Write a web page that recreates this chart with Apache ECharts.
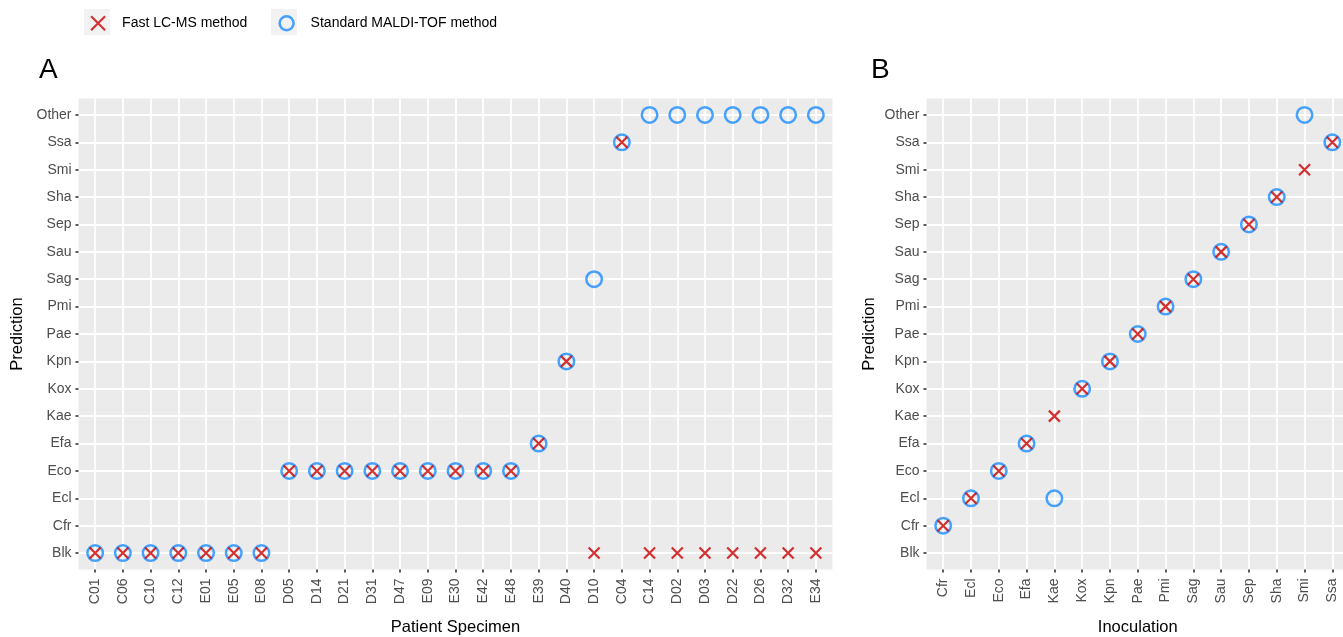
<!DOCTYPE html>
<html>
<head>
<meta charset="utf-8">
<script src="https://cdn.jsdelivr.net/npm/echarts@6/dist/echarts.min.js"></script>
<style>
html,body{margin:0;padding:0;background:#fff;}
#c{width:1343px;height:637px;}
</style>
</head>
<body>
<div id="c"></div>
<script>
// ---- data ----
var predCats = ['Blk','Cfr','Ecl','Eco','Efa','Kae','Kox','Kpn','Pae','Pmi','Sag','Sau','Sep','Sha','Smi','Ssa','Other'];
var specimenCats = ['C01','C06','C10','C12','E01','E05','E08','D05','D14','D21','D31','D47','E09','E30','E42','E48','E39','D40','D10','C04','C14','D02','D03','D22','D26','D32','E34'];
var specimenLCMS = ['Blk','Blk','Blk','Blk','Blk','Blk','Blk','Eco','Eco','Eco','Eco','Eco','Eco','Eco','Eco','Eco','Efa','Kpn','Blk','Ssa','Blk','Blk','Blk','Blk','Blk','Blk','Blk'];
var specimenMALDI = ['Blk','Blk','Blk','Blk','Blk','Blk','Blk','Eco','Eco','Eco','Eco','Eco','Eco','Eco','Eco','Eco','Efa','Kpn','Sag','Ssa','Other','Other','Other','Other','Other','Other','Other'];
var inocCats = ['Cfr','Ecl','Eco','Efa','Kae','Kox','Kpn','Pae','Pmi','Sag','Sau','Sep','Sha','Smi','Ssa'];
var inocLCMS = ['Cfr','Ecl','Eco','Efa','Kae','Kox','Kpn','Pae','Pmi','Sag','Sau','Sep','Sha','Smi','Ssa'];
var inocMALDI = ['Cfr','Ecl','Eco','Efa','Ecl','Kox','Kpn','Pae','Pmi','Sag','Sau','Sep','Sha','Other','Ssa'];
var nameLC = 'Fast LC-MS method';
var nameMA = 'Standard MALDI-TOF method';

function toPts(xcats, ycats) {
  return xcats.map(function (c, i) { return [i, predCats.indexOf(ycats[i])]; });
}
function range(n) { var a = []; for (var i = 0; i < n; i++) a.push(i); return a; }

var FONT = 'Liberation Sans, Arial, Helvetica, sans-serif';
var RED = '#cc0000', BLUE = '#1a8cff';
var CROSS = 'path://M0,0L10,10M10,0L0,10';

function xAxis(idx, cats, title) {
  return {
    type: 'value', gridIndex: idx, min: -0.6, max: cats.length - 1 + 0.6,
    name: title, nameLocation: 'middle', nameGap: 49,
    nameTextStyle: { fontFamily: FONT, fontSize: 16.5, color: '#000' },
    axisLine: { show: false, onZero: false },
    axisTick: { show: true, length: 3, lineStyle: { color: '#333', width: 1.6 }, customValues: range(cats.length) },
    axisLabel: { customValues: range(cats.length), rotate: 90, margin: 9, fontFamily: FONT, fontSize: 14, color: '#4d4d4d',
      formatter: function (v) { return cats[Math.round(v)]; } },
    splitLine: { show: true, lineStyle: { color: '#fff', width: 1.8 } }
  };
}
function yAxis(idx, gap) {
  return {
    type: 'value', gridIndex: idx, min: -0.6, max: predCats.length - 1 + 0.6,
    name: 'Prediction', nameLocation: 'middle', nameGap: gap, nameRotate: 90,
    nameTextStyle: { fontFamily: FONT, fontSize: 16.5, color: '#000' },
    axisLine: { show: false, onZero: false },
    axisTick: { show: true, length: 3, lineStyle: { color: '#333', width: 1.6 }, customValues: range(predCats.length) },
    axisLabel: { customValues: range(predCats.length), margin: 7, fontFamily: FONT, fontSize: 14, color: '#4d4d4d',
      formatter: function (v) { return predCats[Math.round(v)]; } },
    splitLine: { show: true, lineStyle: { color: '#fff', width: 1.8 } }
  };
}
function circleSeries(idx, data) {
  return { name: nameMA, type: 'scatter', xAxisIndex: idx, yAxisIndex: idx, data: data,
    symbol: 'circle', symbolSize: 15.5, z: 2,
    itemStyle: { color: 'rgba(0,0,0,0)', borderColor: BLUE, borderWidth: 2.5 } };
}
function crossSeries(idx, data) {
  return { name: nameLC, type: 'scatter', xAxisIndex: idx, yAxisIndex: idx, data: data,
    symbol: CROSS, symbolSize: 11, z: 3,
    itemStyle: { color: 'rgba(0,0,0,0)', borderColor: RED, borderWidth: 2.2 } };
}

var chart = echarts.init(document.getElementById('c'));
chart.setOption({
  backgroundColor: '#fff',
  animation: false,
  textStyle: { fontFamily: FONT },
  graphic: [
    { type: 'rect', left: 84, top: 9, shape: { width: 26, height: 26 }, style: { fill: '#f2f2f2' }, z: -1 },
    { type: 'rect', left: 271, top: 9, shape: { width: 26, height: 26 }, style: { fill: '#f2f2f2' }, z: -1 },
    { type: 'text', left: 39, top: 56, style: { text: 'A', font: '28px ' + FONT, fill: '#000' } },
    { type: 'text', left: 871, top: 56, style: { text: 'B', font: '28px ' + FONT, fill: '#000' } }
  ],
  legend: {
    left: 90, top: 15, padding: 0, itemWidth: 14, itemHeight: 14, itemGap: 31,
    data: [
      { name: nameLC, icon: CROSS, itemStyle: { color: 'rgba(0,0,0,0)', borderColor: RED, borderWidth: 2.2 } },
      { name: nameMA, icon: 'circle', itemStyle: { color: 'rgba(0,0,0,0)', borderColor: BLUE, borderWidth: 2.5 } }
    ],
    textStyle: { fontFamily: FONT, fontSize: 14, color: '#000', padding: [0, 0, 0, 12] },
    selectedMode: false
  },
  grid: [
    { left: 78.5, right: 1343 - 832.5, top: 98.5, bottom: 637 - 569.5, outerBoundsMode: 'none', containLabel: false,
      show: true, backgroundColor: '#ebebeb', borderWidth: 0 },
    { left: 926.5, right: -6, top: 98.5, bottom: 637 - 569.5, outerBoundsMode: 'none', containLabel: false,
      show: true, backgroundColor: '#ebebeb', borderWidth: 0 }
  ],
  xAxis: [xAxis(0, specimenCats, 'Patient Specimen'), xAxis(1, inocCats, 'Inoculation')],
  yAxis: [yAxis(0, 51), yAxis(1, 49)],
  series: [
    circleSeries(0, toPts(specimenCats, specimenMALDI)),
    crossSeries(0, toPts(specimenCats, specimenLCMS)),
    circleSeries(1, toPts(inocCats, inocMALDI)),
    crossSeries(1, toPts(inocCats, inocLCMS))
  ]
});
</script>
</body>
</html>
